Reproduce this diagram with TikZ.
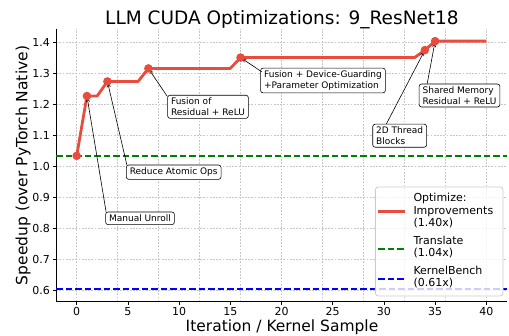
\documentclass[tikz,border=0pt]{standalone}
\usepackage{fontspec}
\setmainfont{DejaVu Sans}
\usetikzlibrary{arrows.meta,calc}
\definecolor{imprred}{RGB}{231,76,60}
\definecolor{trgreen}{RGB}{0,128,0}
\definecolor{kbblue}{RGB}{0,0,255}
\begin{document}
\begin{tikzpicture}[x=1pt,y=1pt,
  gridline/.style={black!22, line width=0.6pt, dash pattern=on 1.8pt off 1.4pt},
  spine/.style={black, line width=0.8pt},
  tickmark/.style={black, line width=0.8pt},
  ticklabel/.style={font=\fontsize{11}{13}\selectfont, inner sep=0pt},
  improve/.style={imprred, line width=2.8pt, line join=round},
  dot/.style={circle, fill=imprred, inner sep=0pt, minimum size=8.6pt},
  transl/.style={trgreen, line width=1.6pt, dash pattern=on 6.5pt off 3pt},
  kbench/.style={kbblue, line width=1.6pt, dash pattern=on 6.5pt off 3pt},
  note/.style={draw=black, fill=white, rounded corners=2.5pt, line width=0.6pt,
    font=\fontsize{9}{10.5}\selectfont, align=left, inner xsep=3.5pt, inner ysep=2.8pt},
  pointer/.style={black, line width=0.6pt, -{Straight Barb[length=3pt,width=3.5pt]}, shorten >=2.2pt},
  legendtext/.style={font=\fontsize{11}{12.5}\selectfont, align=left, anchor=west, inner sep=0pt},
]
\useasboundingbox (0,0) rectangle (509,336);

% ---- data axes: x = iteration, y = speedup ----
\begin{scope}[shift={(76.7,-140.7)}, x=10.24pt, y=310pt]
  % grid
  \foreach \i in {0,4,...,40}
    \draw[gridline] (\i,0.565) -- (\i,1.445);
  \foreach \k in {6,...,14}
    \draw[gridline] (-2,\k/10) -- (42,\k/10);

  % spines
  \draw[spine] (-2,1.445) -- (-2,0.565) -- (42,0.565);

  % x ticks and labels
  \foreach \i in {0,5,...,40} {
    \draw[tickmark] (\i,0.565) -- ++(0,-3.5pt);
    \node[ticklabel, anchor=north] (xt\i) at ([yshift=-5.4pt]\i,0.565) {\i};
  }
  % y ticks and labels
  \foreach \k/\lab in {6/0.6,7/0.7,8/0.8,9/0.9,10/1.0,11/1.1,12/1.2,13/1.3,14/1.4} {
    \draw[tickmark] (-2,\k/10) -- ++(-3.5pt,0);
    \node[ticklabel, anchor=east] (yt\k) at ([xshift=-6.2pt]-2,\k/10) {\lab};
  }

  % reference levels
  \draw[transl] (-2,1.035) -- (42,1.035);
  \draw[kbench] (-2,0.605) -- (42,0.605);

  % improvement points
  \coordinate (p0)  at (0,1.035);
  \coordinate (p1)  at (1,1.228);
  \coordinate (p3)  at (3,1.275);
  \coordinate (p7)  at (7,1.317);
  \coordinate (p16) at (16,1.352);
  \coordinate (p34) at (34,1.376);
  \coordinate (p35) at (35,1.405);

  % best speedup so far
  \draw[improve] (p0) -- (p1) -- (2,1.228) -- (p3) -- (6,1.275)
    -- (p7) -- (15,1.317) -- (p16) -- (33,1.352) -- (p34)
    -- (p35) -- (40,1.405);
\end{scope}

% ---- annotations ----
\node[note] (unroll) at (140,117.7) {Manual Unroll};
\node[note] (atomic) at (173.7,163.8) {Reduce Atomic Ops};
\node[note] (fusres) at (208,229.2) {Fusion of\\Residual + ReLU};
\node[note] (fusdev) at (323,255.5) {Fusion + Device-Guarding\\+Parameter Optimization};
\node[note] (shmem)  at (459.5,240.5) {Shared Memory\\Residual + ReLU};
\node[note] (thread) at (399.7,200.3) {2D Thread\\Blocks};

\draw[pointer] ($(unroll.north west)+(0.8pt,0)$) -- (p1);
\draw[pointer] ($(atomic.north west)+(0.8pt,0)$) -- (p3);
\draw[pointer] ($(fusres.north west)+(0,-1.5pt)$) -- (p7);
\draw[pointer] ($(fusdev.north west)+(1.4pt,-4pt)$) -- (p16);
\draw[pointer] ($(shmem.north west)+(8.4pt,0)$) -- (p35);
\draw[pointer] ($(thread.north west)+(14pt,0)$) -- (p34);

% markers on top of the pointer tips
\foreach \p in {p0,p1,p3,p7,p16,p34,p35}
  \node[dot] (dot\p) at (\p) {};

% ---- titles ----
\node[font=\fontsize{18.5}{22}\selectfont, anchor=base] (title) at (282,311) {LLM CUDA Optimizations: 9\_ResNet18};
\node[font=\fontsize{15.5}{18}\selectfont, anchor=base] (xlabel) at (282,4.3) {Iteration / Kernel Sample};
\node[font=\fontsize{15.5}{18}\selectfont, rotate=90] (ylabel) at (23,170.5) {Speedup (over PyTorch Native)};

% ---- legend ----
\node[draw=black!20, fill=white, fill opacity=0.8, rounded corners=3pt, line width=0.8pt,
  minimum width=127.7pt, minimum height=109pt, inner sep=0pt] (legend) at (439.2,94.5) {};
\draw[imprred, line width=2.8pt] (378.3,124.3) -- (405,124.3);
\draw[transl] (378.3,86.7) -- (405,86.7);
\draw[kbench] (378.3,57) -- (405,57);
\node[legendtext] (lgimpr) at (413.3,125) {Optimize:\\Improvements\\(1.40x)};
\node[legendtext] (lgtrans) at (413.3,88.9) {Translate\\(1.04x)};
\node[legendtext] (lgkb) at (413.3,59) {KernelBench\\(0.61x)};
\end{tikzpicture}
\end{document}
